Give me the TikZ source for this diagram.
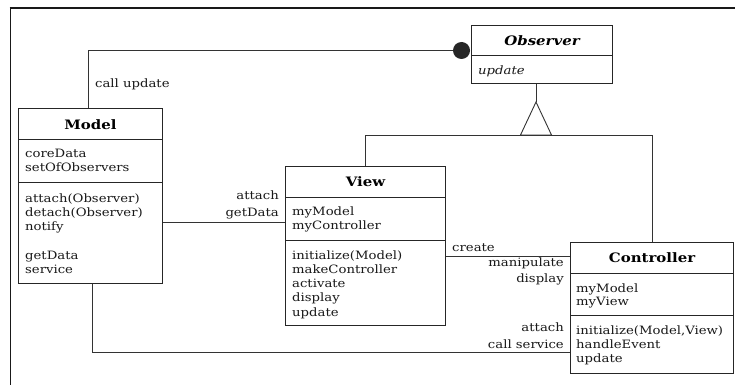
\documentclass[tikz,border=0pt]{standalone}
\usepackage{fontspec}
\setmainfont{DejaVu Serif}[FakeStretch=1.15]
\begin{document}
\begin{tikzpicture}[x=1pt,y=-1pt,
  classbox/.style={draw=black!85, line width=1pt, inner sep=0pt, anchor=north west},
  divider/.style={draw=black!85, line width=0.9pt},
  member/.style={inner sep=0pt, anchor=base west, font=\fontsize{11.5}{13}\selectfont, text=black!90},
  classname/.style={inner sep=0pt, anchor=base, font=\fontsize{13}{15}\selectfont\bfseries, text=black},
  rolelabel/.style={inner sep=0pt, font=\fontsize{11.5}{13}\selectfont, text=black!90},
  conn/.style={draw=black!80, line width=0.9pt},
  knob/.style={circle, fill=black!85, draw=none, minimum size=17pt, inner sep=0pt}]

\useasboundingbox (0,0) rectangle (735,385);
\fill[white] (0,0) rectangle (735,385);

% frame around the figure (top and left edges)
\draw[black!90, line width=2pt] (9.5,8.5) -- (735,8.5);
\draw[black!90, line width=1.4pt] (10.5,8) -- (10.5,385);

% ---------- class boxes ----------
\node[classbox, minimum width=144, minimum height=175] (model) at (18,108) {};
\node[classbox, minimum width=160, minimum height=159] (view) at (285,166) {};
\node[classbox, minimum width=163, minimum height=131] (controller) at (570,242) {};
\node[classbox, minimum width=141, minimum height=58] (observer) at (471,25) {};

% compartments
\draw[divider] ([yshift=-31]model.north west) -- ([yshift=-31]model.north east);
\draw[divider] ([yshift=-74]model.north west) -- ([yshift=-74]model.north east);
\draw[divider] ([yshift=-31]view.north west) -- ([yshift=-31]view.north east);
\draw[divider] ([yshift=-74]view.north west) -- ([yshift=-74]view.north east);
\draw[divider] ([yshift=-31]controller.north west) -- ([yshift=-31]controller.north east);
\draw[divider] ([yshift=-73]controller.north west) -- ([yshift=-73]controller.north east);
\draw[divider] ([yshift=-30]observer.north west) -- ([yshift=-30]observer.north east);

% class names
\node[classname] (model-name) at (model.north |- 0,129) {Model};
\node[classname] (view-name) at (view.north |- 0,186) {View};
\node[classname] (controller-name) at (controller.north |- 0,262) {Controller};
\node[classname, font=\fontsize{13}{15}\selectfont\bfseries\itshape] (observer-name) at (observer.north |- 0,45.5) {Observer};

% members
\foreach \t [count=\i from 0] in {coreData,setOfObservers}
  \node[member] (model-attr-\i) at (25,157+14.3*\i) {\t};
\foreach \t [count=\i from 0] in {attach(Observer),detach(Observer),notify}
  \node[member] (model-op-\i) at (25,202+14.3*\i) {\t};
\foreach \t [count=\i from 0] in {getData,service}
  \node[member] (model-acc-\i) at (25,259+14.3*\i) {\t};

\foreach \t [count=\i from 0] in {myModel,myController}
  \node[member] (view-attr-\i) at (292,215.5+13.5*\i) {\t};
\foreach \t [count=\i from 0] in {initialize(Model),makeController,activate,display,update}
  \node[member] (view-op-\i) at (292,259+14.3*\i) {\t};

\foreach \t [count=\i from 0] in {myModel,myView}
  \node[member] (controller-attr-\i) at (576,292+13*\i) {\t};
\foreach \t [count=\i from 0] in {{initialize(Model,View)},handleEvent,update}
  \node[member] (controller-op-\i) at (576,334+14*\i) {\t};

\node[member, font=\fontsize{11.5}{13}\selectfont\itshape] (observer-op) at (478,75) {update};

% ---------- connectors ----------
% Model notifies its observers
\node[knob] (knob) at (461.5,50.5) {};
\draw[conn] ([xshift=70]model.north west) |- (knob);
\node[rolelabel, anchor=base west] (lbl-update) at (95,88) {call update};

% inheritance from Observer
\coordinate (apex) at (536,102);
\draw[conn] (apex |- observer.south) -- (apex);
\draw[conn] (apex) -- ++(-15.5,33) coordinate (tri-l) -- ++(31,0) coordinate (tri-r) -- cycle;
\draw[conn] (view.north) |- (controller.north |- tri-l) -- (controller.north);

% View -- Model
\coordinate (mv) at (0,222);
\draw[conn] (model.east |- mv) -- (view.west |- mv);
\node[rolelabel, anchor=base east] (lbl-attach1) at (279,199) {attach};
\node[rolelabel, anchor=base east] (lbl-getdata) at (279,216) {getData};

% View -- Controller
\coordinate (vc) at (0,256);
\draw[conn] (view.east |- vc) -- (controller.west |- vc);
\node[rolelabel, anchor=base west] (lbl-create) at (452,251) {create};
\node[rolelabel, anchor=base east] (lbl-manip) at (564,266) {manipulate};
\node[rolelabel, anchor=base east] (lbl-display) at (564,282) {display};

% Controller -- Model
\coordinate (mc) at (0,352);
\draw[conn] ([xshift=74]model.south west) |- (controller.west |- mc);
\node[rolelabel, anchor=base east] (lbl-attach2) at (564,331) {attach};
\node[rolelabel, anchor=base east] (lbl-service) at (564,348) {call service};
\end{tikzpicture}
\end{document}
